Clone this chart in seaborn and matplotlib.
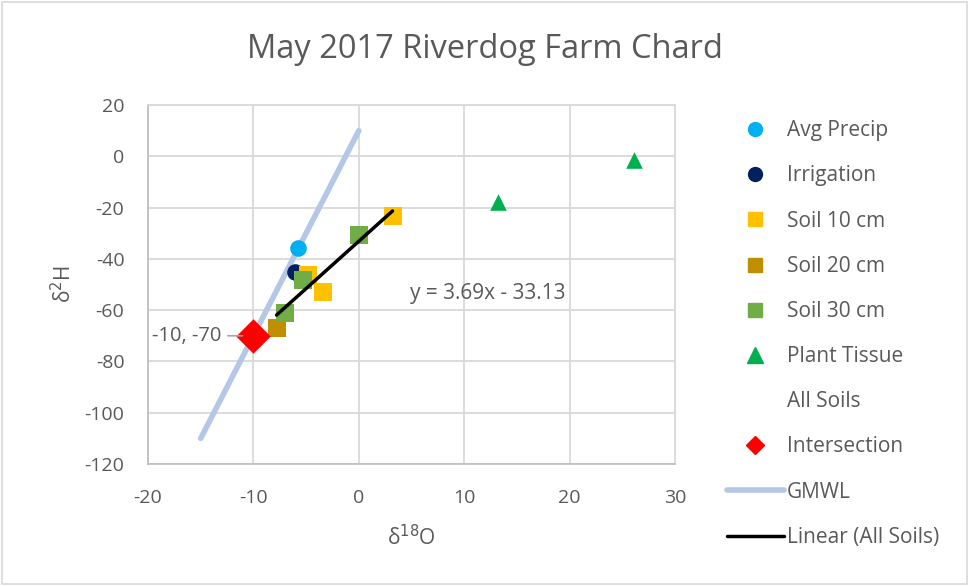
import matplotlib
matplotlib.use("Agg")
import matplotlib.pyplot as plt
import seaborn as sns
import numpy as np
import pandas as pd
from matplotlib.lines import Line2D

sns.set_theme(style="white")
plt.rcParams['font.family'] = ['Open Sans', 'DejaVu Sans']
plt.rcParams['axes.unicode_minus'] = False

# ---- data ----
precip_x = [-5.8]
precip_y = [-35.8]
irrig_x = [-6.1]
irrig_y = [-45.0]
soil10_x = [-4.8, 3.2, -3.4]
soil10_y = [-46.3, -23.2, -53.0]
soil20_x = [-7.8]
soil20_y = [-66.8]
soil30_x = [0.0, -5.3, -7.0]
soil30_y = [-30.8, -48.2, -61.0]
plant_x = [13.2, 26.1]
plant_y = [-17.8, -1.6]
inter_x = [-10]
inter_y = [-70]
gmwl_x = [-15, 0]
gmwl_y = [-110, 10]
fit_slope = 3.69
fit_icpt = -33.13

xticks = [-20, -10, 0, 10, 20, 30]
yticks = [20, 0, -20, -40, -60, -80, -100, -120]

TXT = '#595959'
GRID = '#d9d9d9'
AXC = '#bfbfbf'

W, H = 969, 586
fig = plt.figure(figsize=(W/100, H/100), dpi=100)
ax = fig.add_axes([148/W, 1-464/H, (675-148)/W, (464-105)/H])

# GMWL
sns.lineplot(x=gmwl_x, y=gmwl_y, ax=ax, color='#b4c7e7', lw=4, solid_capstyle='round', zorder=2)
# Linear (All Soils)
soil_all_x = soil10_x + soil20_x + soil30_x
fx = np.array([min(soil_all_x), max(soil_all_x)])
sns.lineplot(x=fx, y=fit_slope*fx + fit_icpt, ax=ax, color='black', lw=2.5, zorder=4)

ms = 110
sns.scatterplot(x=precip_x, y=precip_y, ax=ax, color='#00b0f0', marker='o', s=ms*1.3, linewidth=0, zorder=3)
sns.scatterplot(x=irrig_x, y=irrig_y, ax=ax, color='#002060', marker='o', s=ms*1.3, linewidth=0, zorder=3)
sns.scatterplot(x=soil10_x, y=soil10_y, ax=ax, color='#ffc000', marker='s', s=ms*1.4, linewidth=0, zorder=3)
sns.scatterplot(x=soil20_x, y=soil20_y, ax=ax, color='#bf8f00', marker='s', s=ms*1.4, linewidth=0, zorder=3)
sns.scatterplot(x=soil30_x, y=soil30_y, ax=ax, color='#70ad47', marker='s', s=ms*1.4, linewidth=0, zorder=3)
sns.scatterplot(x=plant_x, y=plant_y, ax=ax, color='#00b050', marker='^', s=ms*1.3, linewidth=0, zorder=3)
sns.scatterplot(x=inter_x, y=inter_y, ax=ax, color='#ff0000', marker='D', s=ms*2.8, linewidth=0, zorder=5)

# intersection label with leader
ax.annotate(f"{inter_x[0]}, {inter_y[0]}", xy=(inter_x[0], inter_y[0]), xytext=(-13.0, inter_y[0]),
            ha='right', va='center', fontsize=14.5, color=TXT,
            arrowprops=dict(arrowstyle='-', color='#a6a6a6', lw=1.2, shrinkA=2, shrinkB=8), zorder=6)
ax.text(4.9, -53.5, f"y = {fit_slope}x - {abs(fit_icpt)}", fontsize=15, color=TXT, ha='left', va='center')

ax.set_xlim(-20, 30)
ax.set_ylim(-120, 20)
ax.set_xticks(xticks)
ax.set_yticks(yticks)
ax.grid(True, color=GRID, lw=1.3)
ax.set_axisbelow(True)
for k, s in ax.spines.items():
    s.set_color(AXC if k in ('left', 'bottom') else GRID)
    s.set_linewidth(1.3)
ax.tick_params(axis='y', length=0, labelsize=14, labelcolor=TXT, pad=17)
ax.tick_params(axis='x', length=0, labelsize=14, labelcolor=TXT, pad=18)
ax.set_xlabel("δ$^{18}$O", fontsize=15, color=TXT, labelpad=13)
ax.set_ylabel("δ$^{2}$H", fontsize=15, color=TXT, labelpad=6)
fig.text(0.5, 1-50/H, "May 2017 Riverdog Farm Chard", fontsize=23.5, color=TXT, ha='center', va='center')

handles = [
    Line2D([], [], ls='none', marker='o', color='#00b0f0', markersize=10),
    Line2D([], [], ls='none', marker='o', color='#002060', markersize=10),
    Line2D([], [], ls='none', marker='s', color='#ffc000', markersize=10),
    Line2D([], [], ls='none', marker='s', color='#bf8f00', markersize=10),
    Line2D([], [], ls='none', marker='s', color='#70ad47', markersize=10),
    Line2D([], [], ls='none', marker='^', color='#00b050', markersize=11),
    Line2D([], [], ls='none', marker='none', color='white'),
    Line2D([], [], ls='none', marker='D', color='#ff0000', markersize=9),
    Line2D([], [], color='#b4c7e7', lw=4, solid_capstyle='round'),
    Line2D([], [], color='black', lw=2.5),
]
labels = ["Avg Precip", "Irrigation", "Soil 10 cm", "Soil 20 cm", "Soil 30 cm",
          "Plant Tissue", "All Soils", "Intersection", "GMWL", "Linear (All Soils)"]
leg = fig.legend(handles, labels, loc='upper left', bbox_to_anchor=(719/W, 1-112/H),
                 frameon=False, fontsize=15, labelspacing=1.16, handlelength=2.7,
                 handletextpad=0.15, borderaxespad=0)
for t in leg.get_texts():
    t.set_color(TXT)

# outer chart border
fig.patches.append(plt.Rectangle((0.002, 0.003), 0.996, 0.994, transform=fig.transFigure,
                                 fill=False, edgecolor=GRID, lw=1.2))

fig.savefig("out.png", dpi=100)
